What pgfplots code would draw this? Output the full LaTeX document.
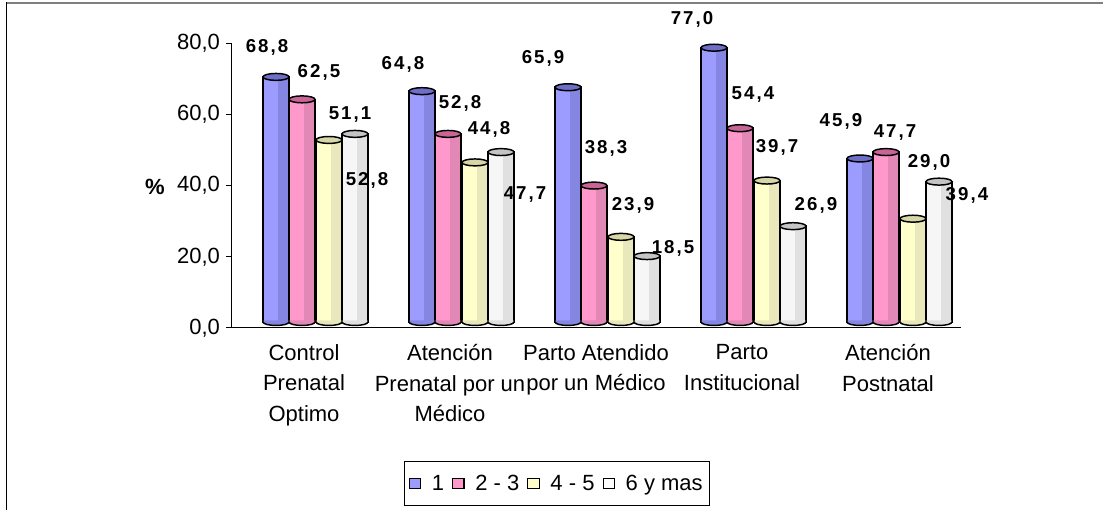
\documentclass[border=0pt]{standalone}
\usepackage{fontspec}
\setmainfont{Liberation Sans}
\newfontfamily\lblfont{Liberation Sans Bold}[LetterSpace=11]
\usepackage{pgfplots}
\pgfplotsset{compat=1.18}
\usepackage{pgfplotstable}

\definecolor{bL}{HTML}{9C9CFF}
\definecolor{bD}{HTML}{8585E2}
\definecolor{bT}{HTML}{6E6EC8}
\definecolor{pL}{HTML}{FF99CC}
\definecolor{pD}{HTML}{E288B6}
\definecolor{pT}{HTML}{C86496}
\definecolor{yL}{HTML}{FFFFCC}
\definecolor{yD}{HTML}{E8E8BC}
\definecolor{yT}{HTML}{D6D6A6}
\definecolor{wL}{HTML}{F6F6F6}
\definecolor{wD}{HTML}{E0E0E0}
\definecolor{wT}{HTML}{C4C4C4}
\definecolor{frameg}{HTML}{7F7F7F}

\pgfdeclareplotmark{cyltop}{%
  \pgfpathellipse{\pgfpointorigin}{\pgfqpoint{9.75pt}{0pt}}{\pgfqpoint{0pt}{2.6pt}}%
  \pgfusepathqfillstroke}
\pgfdeclareplotmark{cylbot}{%
  \pgfpathmoveto{\pgfqpoint{-9.2pt}{1.2pt}}%
  \pgfpathlineto{\pgfqpoint{-9.2pt}{0pt}}%
  \pgfpatharc{180}{360}{9.2pt and 2.5pt}%
  \pgfpathlineto{\pgfqpoint{9.2pt}{1.2pt}}%
  \pgfpathclose
  \pgfusepathqfill
  \pgfpathmoveto{\pgfqpoint{-9.75pt}{0pt}}%
  \pgfpatharc{180}{360}{9.75pt and 2.6pt}%
  \pgfusepathqstroke}

\pgfplotstableread{
x s1 s2 s3 s4
0 68.8 62.5 51.1 52.8
1 64.8 52.8 44.8 47.7
2 65.9 38.3 23.9 18.5
3 77.0 54.4 39.7 26.9
4 45.9 47.7 29.0 39.4
}\data

\pgfplotstableread{
x y lab
-0.2534 78.88 68,8
0.1027 71.86 62,5
0.3151 59.79 51,1
0.4315 41.54 52,8
0.678 74.1 64,8
1.0685 63.16 52,8
1.2671 55.86 44,8
1.5137 37.33 47,7
1.637 75.79 65,9
2.0685 50.53 38,3
2.2534 34.53 23,9
2.5274 22.46 18,5
2.6575 86.74 77,0
3.0753 65.4 54,4
3.2397 50.81 39,7
3.5068 34.53 26,9
3.678 58.1 45,9
4.048 54.74 47,7
4.281 46.6 29,0
4.541 37.33 39,4
}\labels

\newcommand{\cyl}[5]{%
\addplot[forget plot, ybar, bar width=19.7pt, bar shift=0pt, fill=#3, draw=none, yshift=4.5pt]
  table[x expr=\thisrow{x}+#2, y=#1] {\data};
\addplot[forget plot, ybar, bar width=8pt, bar shift=5.6pt, fill=#4, draw=none, yshift=4.5pt]
  table[x expr=\thisrow{x}+#2, y=#1] {\data};
\addplot[forget plot, ybar, bar width=19.5pt, bar shift=0pt, fill=none, draw=black, line width=1.1pt, yshift=4.5pt]
  table[x expr=\thisrow{x}+#2, y=#1] {\data};
\addplot[forget plot, only marks, mark=cylbot, mark options={fill=#4, draw=black, line width=1.1pt}, yshift=4.5pt]
  table[x expr=\thisrow{x}+#2, y expr=0] {\data};
\addplot[forget plot, only marks, mark=cyltop, mark options={fill=#5, draw=black, line width=1.1pt}, yshift=4.5pt]
  table[x expr=\thisrow{x}+#2, y=#1] {\data};
}

\begin{document}
\begin{tikzpicture}
\begin{axis}[
  at={(173.25pt,136.5pt)}, anchor=south west,
  scale only axis, width=547.5pt, height=213.75pt,
  xmin=-0.5, xmax=4.5, ymin=0, ymax=80,
  clip=false,
  axis lines*=left,
  axis line style={line width=0.75pt, black},
  tick align=outside,
  tick style={line width=0.75pt, black},
  major tick length=3.75pt,
  ytick={0,20,40,60,80},
  /pgf/number format/fixed, /pgf/number format/fixed zerofill, /pgf/number format/precision=1,
  /pgf/number format/use comma, /pgf/number format/assume math mode=true,
  yticklabel style={font=\fontsize{16.5}{19}\selectfont, xshift=-1pt},
  xtick={0,1,2,3,4},
  xticklabels={{Control\\Prenatal\\Optimo},{Atención\\Prenatal por un\\Médico},{Parto Atendido\\por un Médico},{Parto\\Institucional},{Atención\\Postnatal}},
  xticklabel style={align=center, font=\fontsize{16.5}{22.9}\selectfont, yshift=-5pt},
  x tick style={draw=none},
  extra x ticks={-0.5,0.5,1.5,2.5,3.5,4.5},
  extra x tick labels={},
  extra x tick style={tick style={draw=black, line width=0.75pt}, major tick length=3.75pt},
  ylabel={\%},
  ylabel style={at={(axis description cs:-0.1041,0.495)}, rotate=-90, anchor=center, font=\fontsize{16.5}{19}\selectfont\bfseries},
  legend columns=4,
  legend style={at={(0.4466,-0.5456)}, anchor=center, draw=black, line width=0.75pt,
    font=\fontsize{16.5}{19}\selectfont, inner xsep=3pt, inner ysep=8pt,
    /tikz/every even column/.append style={column sep=4pt},
    /tikz/every odd column/.append style={column sep=6pt}},
  legend image code/.code={\draw[#1, line width=0.9pt] (0pt,-3.6pt) rectangle (8.5pt,4pt);},
]
\addlegendimage{fill=bL, draw=black}
\addlegendentry{1}
\addlegendimage{fill=pL, draw=black}
\addlegendentry{2 - 3}
\addlegendimage{fill=yL, draw=black}
\addlegendentry{4 - 5}
\addlegendimage{fill=white, draw=black}
\addlegendentry{6 y mas}

\cyl{s1}{-0.1918}{bL}{bD}{bT}
\cyl{s2}{-0.0137}{pL}{pD}{pT}
\cyl{s3}{0.1712}{yL}{yD}{yT}
\cyl{s4}{0.3493}{wL}{wD}{wT}

\addplot[forget plot, draw=none, mark=none, nodes near coords, point meta=explicit symbolic,
  every node near coord/.append style={anchor=center, font=\lblfont\fontsize{14}{16}\selectfont, inner sep=0pt}]
  table[x=x, y=y, meta=lab] {\labels};
\end{axis}
\draw[frameg, line width=1.5pt] (4.5pt,380.25pt) -- (827.25pt,380.25pt);
\draw[black, line width=1.2pt] (4.95pt,0pt) -- (4.95pt,381pt);
\pgfresetboundingbox
\path[use as bounding box] (0,0) rectangle (827.25pt,382.5pt);
\end{tikzpicture}
\end{document}
